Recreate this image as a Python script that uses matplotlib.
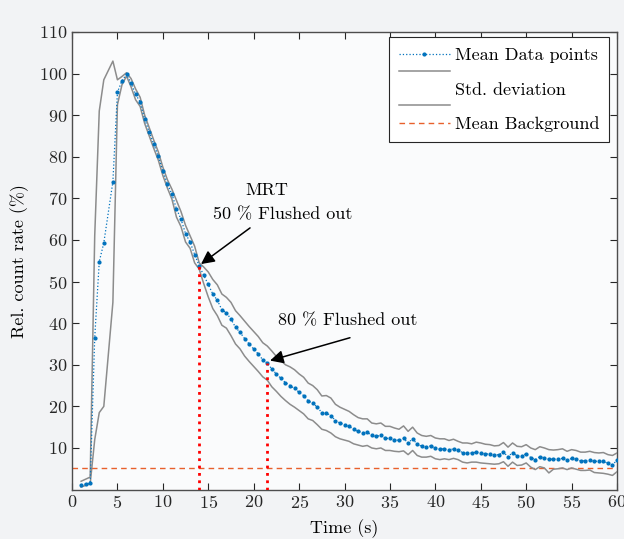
"""
Flushing curve: mean relative count rate with std. deviation band and background level.
"""

import matplotlib.pyplot as plt
import numpy as np
from matplotlib.lines import Line2D
from matplotlib.legend_handler import HandlerBase

plt.rcParams['font.family'] = 'serif'
plt.rcParams['font.serif'] = ['cmr10']
plt.rcParams['axes.formatter.use_mathtext'] = True

#---------------------------------------
# Data
#---------------------------------------

# Sampling times (s), 0.5 s steps (no sample at 4.0 s)
time = np.concatenate(([1.0, 1.5, 2.0, 2.5, 3.0, 3.5], np.arange(4.5, 60.01, 0.5)))

mean_rate = [
    1.2, 1.3, 1.6, 36.5, 54.8, 59.3,
    74.0, 95.5, 98.3, 99.8, 97.8, 95.0, 93.2, 89.0, 86.0, 83.0,
    80.2, 76.5, 73.5, 71.0, 67.5, 65.0, 61.5, 59.5, 56.5, 53.8,
    51.5, 49.3, 47.0, 45.5, 43.2, 42.5, 41.0, 39.0, 37.8, 36.3,
    35.0, 33.8, 32.6, 31.2, 30.4, 29.0, 27.8, 26.7, 25.7, 25.0,
    24.3, 23.4, 22.6, 21.3, 20.8, 19.8, 18.5, 18.4, 17.8, 16.6,
    16.0, 15.6, 15.2, 14.5, 14.0, 13.7, 13.8, 13.0, 12.8, 13.0,
    12.3, 12.3, 12.0, 11.8, 12.3, 11.2, 12.2, 10.9, 10.4, 10.3,
    10.5, 9.9, 9.7, 9.8, 9.5, 9.8, 9.4, 8.9, 8.8, 8.8,
    9.0, 8.8, 8.6, 8.5, 8.3, 8.4, 9.0, 7.9, 8.9, 8.1,
    8.1, 8.6, 7.7, 7.2, 7.9, 7.6, 7.3, 7.3, 7.3, 7.5,
    7.0, 7.5, 7.3, 6.9, 6.9, 7.1, 6.8, 6.8, 6.8, 6.3,
    6.0, 7.0,
]

std_upper = [
    2.0, 2.5, 3.0, 61.0, 91.0, 98.5,
    103.0, 98.5, 99.3, 100.2, 98.8, 96.3, 94.3, 90.0, 87.0, 84.0,
    81.2, 77.5, 74.5, 72.2, 69.5, 66.8, 63.5, 61.0, 58.5, 54.5,
    53.5, 52.3, 50.5, 49.2, 47.0, 46.2, 45.0, 43.0, 41.8, 40.5,
    39.2, 38.0, 36.8, 35.3, 34.5, 33.3, 32.0, 31.0, 30.0, 29.5,
    28.8, 27.8, 27.0, 25.6, 25.0, 24.0, 22.5, 22.6, 22.0, 20.5,
    19.8, 19.3, 18.8, 18.0, 17.3, 17.0, 17.0, 16.0, 15.8, 16.0,
    15.2, 15.2, 14.8, 14.5, 15.3, 14.0, 15.0, 13.6, 13.0, 12.8,
    13.0, 12.4, 12.2, 12.2, 11.8, 12.1, 11.6, 11.2, 11.2, 11.0,
    11.4, 11.2, 10.9, 10.8, 10.5, 10.6, 11.3, 10.2, 11.2, 10.4,
    10.3, 10.8, 10.0, 9.6, 10.3, 10.0, 9.6, 9.5, 9.6, 9.8,
    9.2, 9.6, 9.4, 9.0, 9.0, 9.2, 8.9, 8.8, 8.9, 8.4,
    8.2, 8.8,
]

std_lower = [
    0.6, 1.0, 1.4, 12.0, 18.5, 20.0,
    45.0, 92.5, 97.3, 99.4, 96.8, 93.7, 92.1, 88.0, 85.0, 82.0,
    79.2, 75.5, 72.5, 69.8, 65.5, 63.2, 59.5, 58.0, 54.5, 53.0,
    49.5, 46.3, 43.5, 41.8, 39.5, 38.8, 37.0, 35.0, 33.8, 32.1,
    30.8, 29.6, 28.4, 27.1, 26.3, 24.7, 23.6, 22.4, 21.4, 20.5,
    19.8, 19.0, 18.2, 17.0, 16.6, 15.6, 14.5, 14.2, 13.6, 12.7,
    12.2, 11.9, 11.6, 11.0, 10.7, 10.4, 10.6, 10.0, 9.8, 10.0,
    9.4, 9.4, 9.2, 9.1, 9.3, 8.4, 9.4, 8.2, 7.8, 7.8,
    8.0, 7.4, 7.2, 7.4, 7.2, 7.5, 7.2, 6.6, 6.4, 6.6,
    6.6, 6.4, 6.3, 6.2, 6.1, 6.2, 6.7, 5.6, 6.6, 5.8,
    5.9, 6.4, 5.4, 4.8, 5.5, 5.2, 4.0, 4.9, 5.0, 5.2,
    4.8, 5.2, 4.9, 4.6, 4.6, 4.7, 4.1, 4.0, 3.9, 3.7,
    3.4, 4.3,
]

background = 5.2

# Flushing milestones (s)
t_mrt = 14.0
t_80 = 21.5

#---------------------------------------
# Legend handler: two gray lines around one label
#---------------------------------------

class TwoLineHandler(HandlerBase):
    def create_artists(self, legend, orig_handle, xdescent, ydescent,
                       width, height, fontsize, trans):
        yc = height / 2 - ydescent
        off = 0.95 * fontsize
        lines = []
        for dy in (off, -off):
            ln = Line2D([-xdescent, width - xdescent], [yc + dy, yc + dy],
                        color=orig_handle.get_color(), linewidth=orig_handle.get_linewidth())
            ln.set_transform(trans)
            lines.append(ln)
        return lines

#---------------------------------------
# Plot
#---------------------------------------

fig = plt.figure(figsize=(6.24, 5.39), dpi=100, facecolor='#f2f3f5')
ax = fig.add_axes([0.1154, 0.0917, 0.8734, 0.849])
ax.set_facecolor('#fafbfc')

mean_line, = ax.plot(time, mean_rate, linestyle=':', linewidth=0.9, marker='.',
                     markersize=4, color='#0072BD', label='Mean Data points', zorder=4)
std_line, = ax.plot(time, std_upper, linestyle='-', linewidth=1.1, color='#8c8c8c', zorder=3)
ax.plot(time, std_lower, linestyle='-', linewidth=1.1, color='#8c8c8c', zorder=3)
bg_line = ax.axhline(background, linestyle='--', linewidth=1.0, color='#E8602C',
                     dashes=(4, 3), zorder=2)

# Vertical markers at MRT and 80 % flushed out
y_mrt = mean_rate[list(time).index(t_mrt)]
y_80 = mean_rate[list(time).index(t_80)]
ax.plot([t_mrt, t_mrt], [0, y_mrt], linestyle=':', linewidth=2, color='red', zorder=5)
ax.plot([t_80, t_80], [0, y_80], linestyle=':', linewidth=2, color='red', zorder=5)

# Annotations
arrow = dict(arrowstyle='-|>', color='black', linewidth=1.1, mutation_scale=20,
             shrinkA=0, shrinkB=0)
ax.annotate('', xy=(t_mrt + 0.2, y_mrt + 0.4), xytext=(19.6, 62.9), arrowprops=arrow, zorder=6)
ax.annotate('', xy=(t_80 + 0.3, y_80 + 0.6), xytext=(30.6, 36.5), arrowprops=arrow, zorder=6)
ax.text(21.4, 72.0, 'MRT', ha='center', va='center', fontsize=13)
ax.text(23.2, 66.2, '50 % Flushed out', ha='center', va='center', fontsize=13)
ax.text(30.4, 40.5, '80 % Flushed out', ha='center', va='center', fontsize=13)

# Axes
ax.set_xlim(0, 60)
ax.set_ylim(0, 110)
ax.set_xticks(np.arange(0, 61, 5))
ax.set_yticks(np.arange(10, 111, 10))
ax.tick_params(direction='in', top=True, right=True, length=5, width=0.8,
               labelsize=13, colors='#262626')
for sp in ax.spines.values():
    sp.set_color('#4d4d4d')
    sp.set_linewidth(1.0)

ax.set_xlabel('Time (s)', fontsize=13, labelpad=6)
ax.set_ylabel('Rel. count rate (%)', fontsize=13, labelpad=7)

leg = ax.legend([mean_line, std_line, bg_line],
                ['Mean Data points', 'Std. deviation', 'Mean Background'],
                handler_map={std_line: TwoLineHandler()},
                loc='upper right', bbox_to_anchor=(0.986, 0.988), fontsize=13,
                fancybox=False, framealpha=1, edgecolor='#262626',
                labelspacing=1.05, handlelength=2.8, handletextpad=0.3,
                borderpad=0.55, borderaxespad=0.0)
leg.get_frame().set_linewidth(0.8)

plt.savefig('out.png', dpi=100, facecolor=fig.get_facecolor())
